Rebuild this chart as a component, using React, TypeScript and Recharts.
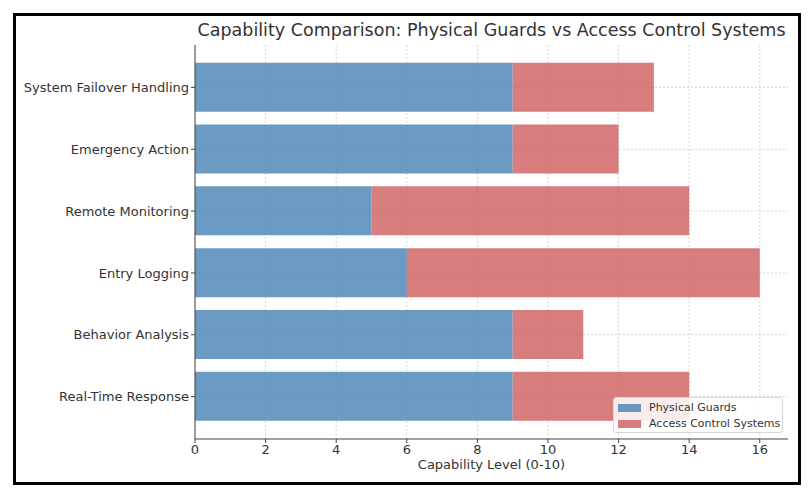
import React from 'react';
import { BarChart, Bar, XAxis, YAxis, CartesianGrid } from 'recharts';

const categories = [
  'System Failover Handling',
  'Emergency Action',
  'Remote Monitoring',
  'Entry Logging',
  'Behavior Analysis',
  'Real-Time Response',
];
const physicalGuards = [9, 9, 5, 6, 9, 9];
const accessControl = [4, 3, 9, 10, 2, 5];
const xTicks = [0, 2, 4, 6, 8, 10, 12, 14, 16];

const data = categories.map((name, i) => ({
  name,
  guards: physicalGuards[i],
  acs: accessControl[i],
}));

const FONT = '"DejaVu Sans", Verdana, sans-serif';
const TEXT = '#333333';
const AXIS = '#444444';

const legendItems = [
  { label: 'Physical Guards', color: '#4682b4' },
  { label: 'Access Control Systems', color: '#cd5c5c' },
];

const LegendBox = () => (
  <div
    style={{
      position: 'absolute',
      left: 613,
      top: 397,
      width: 170,
      height: 36,
      boxSizing: 'border-box',
      background: 'rgba(255,255,255,0.85)',
      border: '1px solid #d8d8d8',
      borderRadius: 3,
      padding: '2px 0 0 4px',
      fontSize: 11,
      color: TEXT,
      fontFamily: FONT,
      lineHeight: '16px',
    }}
  >
    {legendItems.map((it) => (
      <div key={it.label} style={{ display: 'flex', alignItems: 'center' }}>
        <span
          style={{
            display: 'inline-block',
            width: 23,
            height: 8,
            background: it.color,
            opacity: 0.8,
            marginRight: 8,
          }}
        />
        <span>{it.label}</span>
      </div>
    ))}
  </div>
);

export default function App() {
  return (
    <div
      style={{
        position: 'fixed',
        left: 0,
        top: 0,
        width: 811,
        height: 493,
        background: '#fff',
        fontFamily: FONT,
      }}
    >
      <div
        style={{
          position: 'absolute',
          left: 13,
          top: 13,
          width: 782,
          height: 466,
          border: '3px solid #000',
        }}
      />
      <div
        style={{
          position: 'absolute',
          left: 195,
          width: 593,
          top: 20,
          textAlign: 'center',
          fontSize: 17.5,
          color: TEXT,
        }}
      >
        Capability Comparison: Physical Guards vs Access Control Systems
      </div>
      <div
        style={{
          position: 'absolute',
          left: 195,
          width: 593,
          top: 457,
          textAlign: 'center',
          fontSize: 13,
          color: TEXT,
        }}
      >
        Capability Level (0-10)
      </div>
      <div style={{ position: 'absolute', left: 0, top: 0 }}>
        <BarChart
          width={811}
          height={493}
          data={data}
          layout="vertical"
          margin={{ top: 45, right: 23, bottom: 0, left: 0 }}
          barCategoryGap="10%"
        >
          <CartesianGrid stroke="#d4d4d4" strokeDasharray="2 2" syncWithTicks />
          <XAxis
            type="number"
            domain={[0, 16.8]}
            ticks={xTicks}
            height={54}
            tickSize={4}
            tickMargin={2}
            stroke={AXIS}
            tick={{ fill: TEXT, fontSize: 13, fontFamily: FONT }}
            allowDataOverflow
          />
          <YAxis
            type="category"
            dataKey="name"
            width={195}
            tickSize={4}
            tickMargin={2}
            stroke={AXIS}
            padding={{ top: 11.5, bottom: 11.5 }}
            tick={{ fill: TEXT, fontSize: 13, fontFamily: FONT }}
          />
          <Bar
            dataKey="guards"
            name="Physical Guards"
            stackId="a"
            fill="#4682b4"
            fillOpacity={0.8}
            isAnimationActive={false}
          />
          <Bar
            dataKey="acs"
            name="Access Control Systems"
            stackId="a"
            fill="#cd5c5c"
            fillOpacity={0.8}
            isAnimationActive={false}
          />
        </BarChart>
      </div>
      <LegendBox />
    </div>
  );
}
